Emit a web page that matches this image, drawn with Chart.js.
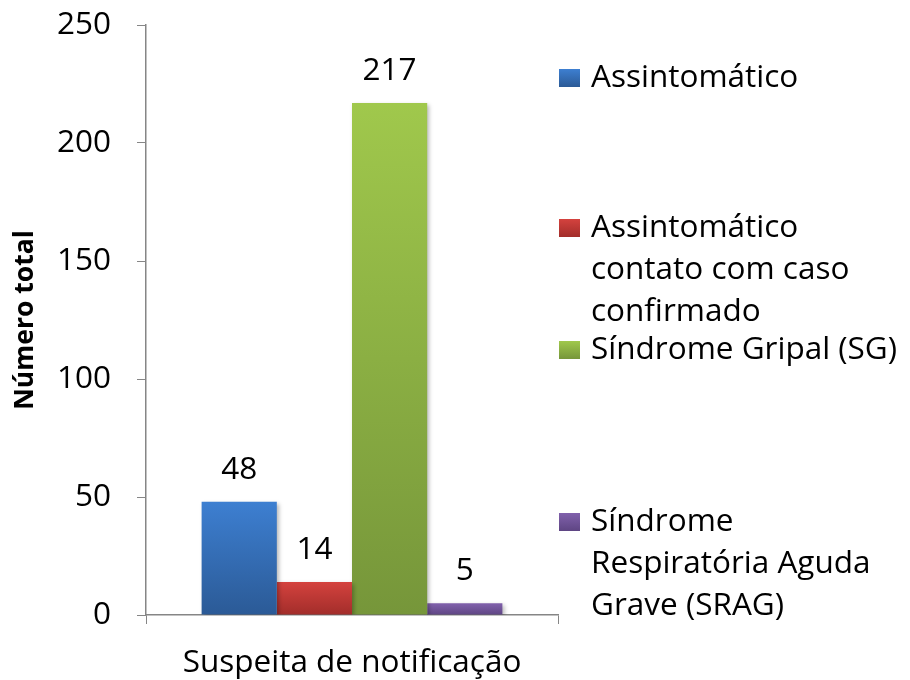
<!DOCTYPE html>
<html>
<head>
<meta charset="utf-8">
<script src="https://cdn.jsdelivr.net/npm/chart.js@4.4.1/dist/chart.umd.min.js"></script>
<style>
    body { margin: 0; background: #fff; }
    #myChart { display: block; }
</style>
</head>
<body>
<canvas id="myChart" width="910" height="680"></canvas>
<script>
// data
var categories = ['Suspeita de notificação'];
var seriesNames = [
    ['Assintomático'],
    ['Assintomático', 'contato com caso', 'confirmado'],
    ['Síndrome Gripal (SG)'],
    ['Síndrome', 'Respiratória Aguda', 'Grave (SRAG)']
];
var assintomatico = [48];
var assintomaticoContato = [14];
var sindromeGripal = [217];
var srag = [5];
var yTicks = [0, 50, 100, 150, 200, 250];

var seriesValues = [assintomatico, assintomaticoContato, sindromeGripal, srag];
var topColors = ['#3d7fd1', '#d4423e', '#a0c84c', '#8161ac'];
var bottomColors = ['#2b5a96', '#a22d2a', '#76963a', '#5e4583'];
var font = 'Open Sans';
var fontSize = 31.5;

function barGradient(i) {
    return function (context) {
        var chart = context.chart;
        if (!chart.chartArea || !chart.scales.y) return topColors[i];
        var v = context.raw;
        var y = chart.scales.y;
        var top = y.getPixelForValue(v);
        var base = y.getPixelForValue(0);
        if (!isFinite(top) || top === base) return topColors[i];
        var g = chart.ctx.createLinearGradient(0, top, 0, base);
        g.addColorStop(0, topColors[i]);
        g.addColorStop(1, bottomColors[i]);
        return g;
    };
}

var datasets = seriesValues.map(function (vals, i) {
    return {
        label: seriesNames[i].join(' '),
        data: vals,
        backgroundColor: barGradient(i),
        borderWidth: 0,
        categoryPercentage: 0.73,
        barPercentage: 1
    };
});

var shadowPlugin = {
    id: 'barShadow',
    beforeDatasetsDraw: function (chart) {
        var ctx = chart.ctx;
        ctx.save();
        ctx.shadowColor = 'rgba(0,0,0,0.28)';
        ctx.shadowBlur = 4;
        ctx.shadowOffsetX = 2;
        ctx.shadowOffsetY = 2;
    },
    afterDatasetsDraw: function (chart) {
        chart.ctx.restore();
    }
};

var valueLabels = {
    id: 'valueLabels',
    afterDatasetsDraw: function (chart) {
        var ctx = chart.ctx;
        ctx.save();
        ctx.font = fontSize + 'px "' + font + '"';
        ctx.fillStyle = '#000';
        ctx.textAlign = 'center';
        ctx.textBaseline = 'middle';
        chart.data.datasets.forEach(function (ds, i) {
            chart.getDatasetMeta(i).data.forEach(function (bar, j) {
                ctx.fillText(ds.data[j], bar.x, bar.y - 32);
            });
        });
        ctx.restore();
    }
};

// legend on the right, entries spread out like the original
var sideLegend = {
    id: 'sideLegend',
    afterDraw: function (chart) {
        var ctx = chart.ctx;
        var firstLineY = [78, 228, 350, 522];
        var lineGap = 42;
        ctx.save();
        ctx.font = fontSize + 'px "' + font + '"';
        ctx.textBaseline = 'middle';
        ctx.textAlign = 'left';
        seriesNames.forEach(function (lines, i) {
            var y0 = firstLineY[i];
            var g = ctx.createLinearGradient(0, y0 - 9, 0, y0 + 9);
            g.addColorStop(0, topColors[i]);
            g.addColorStop(1, bottomColors[i]);
            ctx.fillStyle = g;
            ctx.fillRect(559, y0 - 9, 21, 18);
            ctx.fillStyle = '#000';
            lines.forEach(function (t, k) {
                ctx.fillText(t, 591, y0 + k * lineGap);
            });
        });
        ctx.restore();
    }
};

var ctx = document.getElementById('myChart').getContext('2d');
var myChart = new Chart(ctx, {
    type: 'bar',
    data: {
        labels: categories,
        datasets: datasets
    },
    options: {
        responsive: false,
        devicePixelRatio: 1,
        animation: false,
        layout: {
            padding: {top: 25, right: 352, left: 0, bottom: 0}
        },
        scales: {
            y: {
                min: 0,
                max: 250,
                afterBuildTicks: function (axis) {
                    axis.ticks = yTicks.map(function (v) { return {value: v}; });
                },
                afterFit: function (axis) {
                    axis.width = 146;
                    axis.paddingTop = 0;
                    axis.paddingBottom = 0;
                },
                grid: {
                    drawOnChartArea: false,
                    drawTicks: true,
                    tickLength: 9,
                    color: '#868686'
                },
                border: {color: '#868686', width: 1.5},
                ticks: {
                    color: '#000',
                    padding: 26,
                    font: {family: font, size: fontSize}
                },
                title: {
                    display: true,
                    text: 'Número total',
                    color: '#000',
                    padding: {top: 10, bottom: 0},
                    font: {family: font, size: 26.5, weight: 'bold'}
                }
            },
            x: {
                afterFit: function (axis) { axis.height = 65; },
                grid: {
                    drawOnChartArea: false,
                    drawTicks: true,
                    tickLength: 9,
                    color: '#868686'
                },
                border: {color: '#868686', width: 1.5},
                ticks: {
                    color: '#000',
                    padding: 20,
                    font: {family: font, size: fontSize}
                }
            }
        },
        plugins: {
            legend: {display: false},
            tooltip: {enabled: false}
        }
    },
    plugins: [shadowPlugin, valueLabels, sideLegend]
});
</script>
</body>
</html>
